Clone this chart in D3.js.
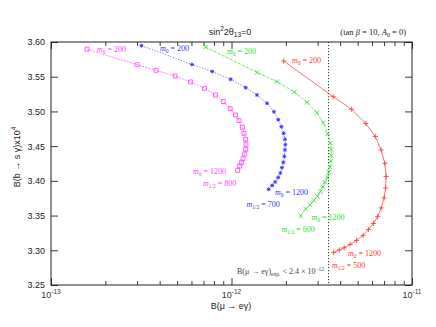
<!DOCTYPE html>
<html>
<head>
<meta charset="utf-8">
<script src="https://cdn.jsdelivr.net/npm/d3@7"></script>
<style>
body{margin:0;background:#fff;}
text{fill:#222;}
</style>
</head>
<body>
<svg id="chart" width="436" height="327"></svg>
<script>
// B(mu -> e gamma) and B(b -> s gamma)x10^4 along m0 = 200 .. 1200, one curve per m1/2
var m800X=[1.585e-13,3.00e-13,3.82e-13,4.87e-13,5.94e-13,7.08e-13,8.15e-13,9.0e-13,9.84e-13,1.052e-12,1.10e-12,1.149e-12,1.173e-12,1.194e-12,1.203e-12,1.198e-12,1.183e-12,1.158e-12,1.134e-12,1.110e-12,1.082e-12];
var m800Y=[3.5895,3.5673,3.5592,3.551,3.5424,3.5333,3.5237,3.5143,3.504,3.4949,3.487,3.4772,3.4685,3.4599,3.4527,3.4455,3.4387,3.432,3.4262,3.4214,3.4152];

var m700X=[3.17e-13,6.04e-13,7.82e-13,9.90e-13,1.198e-12,1.384e-12,1.573e-12,1.718e-12,1.816e-12,1.889e-12,1.945e-12,1.978e-12,1.988e-12,1.978e-12,1.963e-12,1.938e-12,1.904e-12,1.866e-12,1.814e-12,1.746e-12,1.680e-12,1.607e-12];
var m700Y=[3.5947,3.5676,3.5575,3.5463,3.5342,3.5237,3.5117,3.4995,3.4881,3.478,3.4685,3.4599,3.4521,3.4445,3.4354,3.4268,3.419,3.4114,3.4049,3.3984,3.3934,3.3879];

var m600X=[7.20e-13,1.388e-12,1.786e-12,2.23e-12,2.616e-12,2.971e-12,3.23e-12,3.41e-12,3.52e-12,3.565e-12,3.575e-12,3.55e-12,3.51e-12,3.453e-12,3.388e-12,3.294e-12,3.207e-12,3.11e-12,2.99e-12,2.852e-12,2.72e-12,2.576e-12,2.416e-12];
var m600Y=[3.5925,3.5561,3.5428,3.528,3.5132,3.4982,3.4834,3.4678,3.4546,3.4452,3.4368,3.4282,3.42,3.4124,3.4049,3.398,3.3912,3.3844,3.3778,3.3718,3.3656,3.3595,3.3497];

var m500X=[1.945e-12,3.66e-12,4.63e-12,5.55e-12,6.26e-12,6.745e-12,7.07e-12,7.19e-12,7.14e-12,7.01e-12,6.745e-12,6.45e-12,6.11e-12,5.75e-12,5.36e-12,4.93e-12,4.54e-12,4.21e-12,3.95e-12,3.68e-12];
var m500Y=[3.5726,3.5212,3.5031,3.4826,3.4639,3.4445,3.4253,3.4063,3.3898,3.3754,3.361,3.3484,3.3386,3.33,3.3214,3.3142,3.3084,3.3036,3.3005,3.2969];

var expLimit=3.45e-12;   // where the dotted bound sits on the axis
var yTicks=[3.25,3.30,3.35,3.40,3.45,3.50,3.55,3.60];
var xDecades=[1e-13,1e-12,1e-11];
var decadeLabels=["-13","-12","-11"];

var width=436, height=327;
var svg=d3.select("#chart");

var x=d3.scaleLog().domain([1e-13,1e-11]).range([51,412]);
var y=d3.scaleLinear().domain([3.25,3.60]).range([285,42]);

var xMinor=x.ticks().filter(function(t){
    return xDecades.every(function(d){return Math.abs(t-d)/d>1e-6;});
});

// ---- axes ----
function styleAxis(g){
    g.select(".domain").remove();
    g.selectAll("line").attr("stroke","#222").attr("stroke-width",0.9);
    g.selectAll("text").attr("font-family","Liberation Sans, Arial, sans-serif").attr("font-size","9px").attr("fill","#333");
}

svg.append("g").attr("transform","translate(0,285)")
    .call(d3.axisBottom(x).tickValues(xMinor).tickSize(-4).tickFormat("")).call(styleAxis);
svg.append("g").attr("transform","translate(0,285)")
    .call(d3.axisBottom(x).tickValues(xDecades).tickSize(-7).tickFormat("")).call(styleAxis);
svg.append("g").attr("transform","translate(0,42)")
    .call(d3.axisTop(x).tickValues(xMinor).tickSize(-4).tickFormat("")).call(styleAxis);
svg.append("g").attr("transform","translate(0,42)")
    .call(d3.axisTop(x).tickValues(xDecades).tickSize(-7).tickFormat("")).call(styleAxis);

svg.append("g").attr("transform","translate(51,0)")
    .call(d3.axisLeft(y).tickValues(yTicks).tickSize(-7).tickPadding(6).tickFormat(d3.format(".2f"))).call(styleAxis);
svg.append("g").attr("transform","translate(412,0)")
    .call(d3.axisRight(y).tickValues(yTicks).tickSize(-7).tickFormat("")).call(styleAxis);

svg.append("rect").attr("x",51).attr("y",42).attr("width",361).attr("height",243)
    .attr("fill","none").attr("stroke","#222").attr("stroke-width",1);

// decade labels 10^n
var xl=svg.append("g").selectAll("text").data(xDecades).enter().append("text")
    .attr("x",function(d){return x(d);}).attr("y",298)
    .attr("text-anchor","middle")
    .attr("font-family","Liberation Sans, Arial, sans-serif").attr("font-size","9px").style("fill","#333");
xl.append("tspan").text("10");
xl.append("tspan").attr("dy",-4).attr("font-size","6.5px").text(function(d,i){return decadeLabels[i];});

// axis titles
var yt=svg.append("text").attr("transform","translate(20,157) rotate(-90)")
    .attr("text-anchor","middle").attr("font-family","Liberation Sans, Arial, sans-serif").attr("font-size","9px");
yt.append("tspan").text("B(b \u2192 s \u03b3)x10");
yt.append("tspan").attr("dy",-4).attr("font-size","6.5px").text("4");

svg.append("text").attr("x",231).attr("y",309).attr("text-anchor","middle")
    .attr("font-family","Liberation Sans, Arial, sans-serif").attr("font-size","9px")
    .text("B(\u03bc \u2192 e\u03b3)");

var tt=svg.append("text").attr("x",230).attr("y",35).attr("text-anchor","middle")
    .attr("font-family","Liberation Sans, Arial, sans-serif").attr("font-size","9px");
tt.append("tspan").text("sin");
tt.append("tspan").attr("dy",-4).attr("font-size","6.5px").text("2");
tt.append("tspan").attr("dy",4).text("2\u03b8");
tt.append("tspan").attr("dy",2).attr("font-size","6.5px").text("13");
tt.append("tspan").attr("dy",-2).text("=0");

var pt=svg.append("text").attr("x",406).attr("y",35).attr("text-anchor","end")
    .attr("font-family","Liberation Serif, serif").attr("font-size","8.5px");
pt.append("tspan").text("(tan ");
pt.append("tspan").attr("font-style","italic").text("\u03b2");
pt.append("tspan").text(" = 10,  ");
pt.append("tspan").attr("font-style","italic").text("A");
pt.append("tspan").attr("dy",2).attr("font-size","6px").text("0");
pt.append("tspan").attr("dy",-2).text(" = 0)");

// experimental bound
svg.append("line").attr("x1",x(expLimit)).attr("x2",x(expLimit)).attr("y1",y(3.60)).attr("y2",y(3.25))
    .attr("stroke","#222").attr("stroke-width",0.9).attr("stroke-dasharray","1.2,1.8");
var lt=svg.append("text").attr("x",237).attr("y",274)
    .attr("font-family","Liberation Serif, serif").attr("font-size","8px").style("fill","#444");
lt.append("tspan").text("B(\u03bc \u2192 e\u03b3)");
lt.append("tspan").attr("dy",2).attr("font-size","5.5px").text("exp.");
lt.append("tspan").attr("dy",-2).text(" < 2.4 \u00d7 10");
lt.append("tspan").attr("dy",-3.5).attr("font-size","5.5px").text("\u221212");

// ---- curves ----
var curves=[
    {xs:m800X,ys:m800Y,color:"#ff40ff",dash:"2,1.2",mark:"square",mhalf:"800"},
    {xs:m700X,ys:m700Y,color:"#3333ff",dash:"1.2,1.6",mark:"star",mhalf:"700"},
    {xs:m600X,ys:m600Y,color:"#22dd22",dash:"3,1.5",mark:"cross",mhalf:"600"},
    {xs:m500X,ys:m500Y,color:"#ff3333",dash:null,mark:"plus",mhalf:"500"}
];

var line=d3.line().x(function(d){return x(d[0]);}).y(function(d){return y(d[1]);});

var markPath={
    square:"M-2,-2H2V2H-2Z",
    star:"M-2,0H2M0,-2V2M-1.5,-1.5L1.5,1.5M-1.5,1.5L1.5,-1.5",
    cross:"M-2.2,-2.2L2.2,2.2M-2.2,2.2L2.2,-2.2",
    plus:"M-2.6,0H2.6M0,-2.6V2.6"
};

curves.forEach(function(c){
    var pts=c.xs.map(function(v,i){return [v,c.ys[i]];});
    svg.append("path").datum(pts).attr("d",line)
        .attr("fill","none").attr("stroke",c.color).attr("stroke-width",0.7)
        .attr("stroke-dasharray",c.dash);
    svg.append("g").selectAll("path").data(pts).enter().append("path")
        .attr("transform",function(d){return "translate("+x(d[0])+","+y(d[1])+")";})
        .attr("d",markPath[c.mark])
        .attr("fill","none").attr("stroke",c.color)
        .attr("stroke-width",c.mark=="star"?0.9:0.8);
});

// ---- m0 / m1/2 labels ----
var labels=[
    {c:0,k:"0",v:"200",x:97,y:52},{c:0,k:"0",v:"1200",x:193,y:174},{c:0,k:"1/2",v:"800",x:203,y:185.5},
    {c:1,k:"0",v:"200",x:160,y:50.5},{c:1,k:"0",v:"1200",x:275,y:194.5},{c:1,k:"1/2",v:"700",x:246.5,y:206.5},
    {c:2,k:"0",v:"200",x:227,y:54},{c:2,k:"0",v:"1200",x:311.5,y:219.5},{c:2,k:"1/2",v:"600",x:281.5,y:231.5},
    {c:3,k:"0",v:"200",x:292,y:63},{c:3,k:"0",v:"1200",x:348,y:256},{c:3,k:"1/2",v:"500",x:332,y:267.5}
];
labels.forEach(function(l){
    var t=svg.append("text").attr("x",l.x).attr("y",l.y)
        .attr("font-family","Liberation Serif, serif").attr("font-size","8px")
        .style("fill",curves[l.c].color);
    t.append("tspan").attr("font-style","italic").text("m");
    t.append("tspan").attr("dy",2).attr("font-size","5.5px").text(l.k);
    t.append("tspan").attr("dy",-2).text(" = "+l.v);
});
</script>
</body>
</html>
